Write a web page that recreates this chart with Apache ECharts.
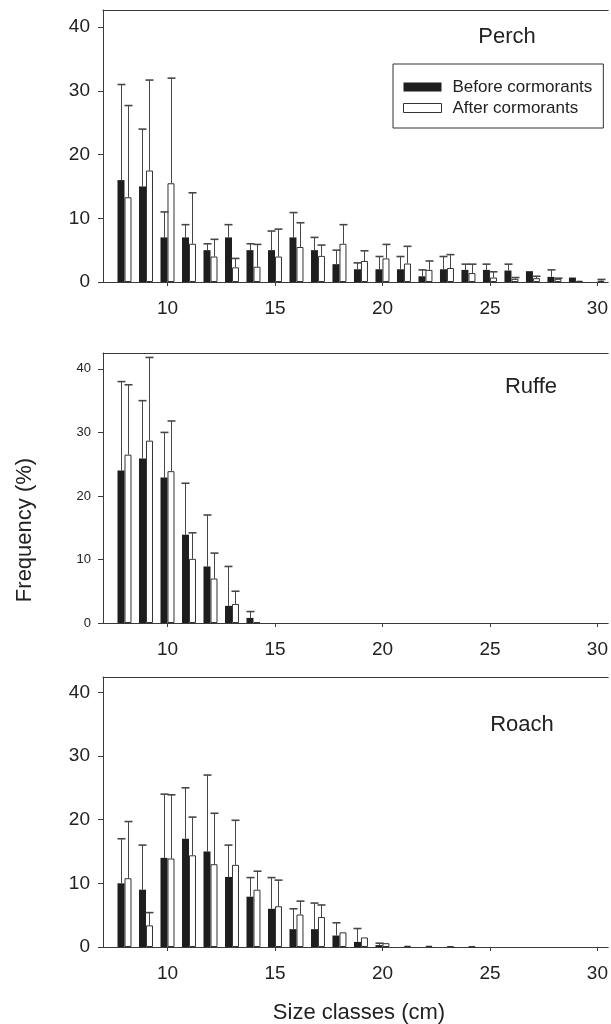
<!DOCTYPE html>
<html>
<head>
<meta charset="utf-8">
<script src="https://cdn.jsdelivr.net/npm/echarts@6/dist/echarts.min.js"></script>
<style>
html, body { margin: 0; padding: 0; background: #fff; }
#chart { width: 611px; height: 1024px; }
</style>
</head>
<body>
<div id="chart"></div>
<script>
// size classes (cm)
const sizeClasses = [8, 9, 10, 11, 12, 13, 14, 15, 16, 17, 18, 19, 20, 21, 22, 23, 24, 25, 26, 27, 28, 29, 30]
const xTicks = [10, 15, 20, 25, 30]
const yTicks = [0, 10, 20, 30, 40]

// Perch
const perchBefore = [16, 15, 7, 7, 5, 7, 5, 5, 7, 5, 2.8, 2, 2, 2, 0.9, 2, 1.9, 1.9, 1.8, 1.7, 0.8, 0.7, 0]
const perchBeforeUpper = [31, 24, 11, 9, 6, 9, 6, 8, 10.9, 7, 5, 3, 4, 4, 1.9, 4, 2.8, 2.8, 2.8, null, 1.9, null, null]
const perchAfter = [13.3, 17.5, 15.5, 6, 4, 2.3, 2.4, 4, 5.5, 4.1, 6, 3.3, 3.7, 2.9, 1.9, 2.2, 1.4, 0.7, 0.5, 0.6, 0.5, 0.2, 0.2]
const perchAfterUpper = [27.7, 31.7, 32, 14, 6.7, 3.7, 5.9, 8.3, 9.3, 5.8, 9, 4.9, 5.9, 5.6, 3.3, 4.3, 2.8, 1.6, 0.7, 0.9, 0.6, null, 0.4]

// Ruffe
const ruffeBefore = [24, 25.9, 22.9, 13.9, 8.9, 2.7, 0.8, 0, 0, 0, 0, 0, 0, 0, 0, 0, 0, 0, 0, 0, 0, 0, 0]
const ruffeBeforeUpper = [38, 35, 30, 22, 17, 8.9, 1.8, null, null, null, null, null, null, null, null, null, null, null, null, null, null, null, null]
const ruffeAfter = [26.5, 28.7, 23.9, 10.1, 7, 3, 0.15, 0, 0, 0, 0, 0, 0, 0, 0, 0, 0, 0, 0, 0, 0, 0, 0]
const ruffeAfterUpper = [37.5, 41.8, 31.8, 14.2, 11, 5, null, null, null, null, null, null, null, null, null, null, null, null, null, null, null, null, null]

// Roach
const roachBefore = [10, 9, 14, 17, 15, 11, 7.9, 6, 2.8, 2.8, 1.8, 0.8, 0.3, 0, 0, 0, 0, 0, 0, 0, 0, 0, 0]
const roachBeforeUpper = [17, 16, 24, 25, 27, 16, 10.9, 10.9, 6, 6.9, 3.8, 2.9, 0.6, null, null, null, null, null, null, null, null, null, null]
const roachAfter = [10.8, 3.4, 13.9, 14.4, 13, 12.9, 9, 6.4, 5.1, 4.7, 2.3, 1.5, 0.6, 0.2, 0.2, 0.1, 0.1, 0, 0, 0, 0, 0, 0]
const roachAfterUpper = [19.7, 5.4, 23.9, 20.4, 21, 19.9, 11.9, 10.5, 7.2, 6.6, null, null, null, null, null, null, null, null, null, null, null, null, null]

const font = '"Liberation Sans", Arial, Helvetica, sans-serif'
const ink = '#222'
const axisColor = '#3a3a3a'
const errColor = '#474747'
const barW = 7

const panels = [
  { name: 'Perch', before: perchBefore, beforeUp: perchBeforeUpper, after: perchAfter, afterUp: perchAfterUpper,
    top: 10, height: 272, yMax: 42.7, yFont: 19, yMargin: 13, title: [507, 37] },
  { name: 'Ruffe', before: ruffeBefore, beforeUp: ruffeBeforeUpper, after: ruffeAfter, afterUp: ruffeAfterUpper,
    top: 353, height: 270, yMax: 42.5, yFont: 13, yMargin: 12, title: [531, 387] },
  { name: 'Roach', before: roachBefore, beforeUp: roachBeforeUpper, after: roachAfter, afterUp: roachAfterUpper,
    top: 677, height: 270, yMax: 42.4, yFont: 19, yMargin: 13, title: [522, 725] }
]

// whisker drawn from bar top to mean+sd, shifted onto its own bar
function errRender(offset) {
  return function (params, api) {
    let up = api.value(2)
    if (up == null || isNaN(up)) return
    let base = api.coord([api.value(0), api.value(1)])
    let top = api.coord([api.value(0), up])
    let x = Math.round(base[0] + offset) + 0.5
    return {
      type: 'group',
      children: [
        { type: 'line', shape: { x1: x, y1: base[1], x2: x, y2: top[1] }, style: { stroke: errColor, lineWidth: 1 } },
        { type: 'line', shape: { x1: x - 4, y1: top[1], x2: x + 4, y2: top[1] }, style: { stroke: errColor, lineWidth: 1.6 } }
      ]
    }
  }
}

// empty classes get no outline, so nothing shows on the axis
function barData(vals) {
  return sizeClasses.map((c, k) => vals[k] === 0
    ? { value: [c, 0], itemStyle: { borderWidth: 0, color: 'transparent' } }
    : [c, vals[k]])
}

let grid = [], xAxis = [], yAxis = [], series = [], graphic = []

panels.forEach((p, i) => {
  grid.push({ left: 103, width: 508, top: p.top, height: p.height })
  xAxis.push({
    gridIndex: i, type: 'value', min: 7, max: 30.5,
    axisLine: { lineStyle: { color: axisColor, width: 1 } },
    axisTick: { length: 4, customValues: xTicks, lineStyle: { color: axisColor } },
    axisLabel: { customValues: xTicks, fontSize: 19, color: ink, fontFamily: font, margin: 17 },
    splitLine: { show: false }
  })
  // top border of the frame
  xAxis.push({
    gridIndex: i, type: 'value', min: 7, max: 30.5, position: 'top',
    axisLine: { lineStyle: { color: axisColor, width: 1 } },
    axisTick: { show: false }, axisLabel: { show: false }, splitLine: { show: false }
  })
  yAxis.push({
    gridIndex: i, type: 'value', min: 0, max: p.yMax,
    axisLine: { show: true, lineStyle: { color: axisColor, width: 1 } },
    axisTick: { show: true, length: 5, customValues: yTicks, lineStyle: { color: axisColor } },
    axisLabel: { customValues: yTicks, fontSize: p.yFont, color: ink, fontFamily: font, margin: p.yMargin },
    splitLine: { show: false }
  })
  let xi = i * 2
  series.push({
    name: 'Before cormorants', type: 'bar', xAxisIndex: xi, yAxisIndex: i,
    barWidth: barW, barGap: '0%',
    itemStyle: { color: '#1e1e1e' },
    data: barData(p.before)
  })
  series.push({
    name: 'After cormorants', type: 'bar', xAxisIndex: xi, yAxisIndex: i,
    barWidth: barW, barGap: '0%',
    itemStyle: { color: '#fff', borderColor: '#333', borderWidth: 1 },
    data: barData(p.after)
  })
  series.push({
    type: 'custom', xAxisIndex: xi, yAxisIndex: i, renderItem: errRender(-barW / 2), z: 3,
    encode: { x: 0, y: [1, 2] },
    data: sizeClasses.map((c, k) => [c, p.before[k], p.beforeUp[k]])
  })
  series.push({
    type: 'custom', xAxisIndex: xi, yAxisIndex: i, renderItem: errRender(barW / 2), z: 3,
    encode: { x: 0, y: [1, 2] },
    data: sizeClasses.map((c, k) => [c, p.after[k], p.afterUp[k]])
  })
  graphic.push({
    type: 'text', x: p.title[0], y: p.title[1],
    style: { text: p.name, font: '22px ' + font, fill: ink, textAlign: 'center', textVerticalAlign: 'middle' }
  })
})

graphic.push({
  type: 'text', x: 25, y: 530, rotation: Math.PI / 2,
  style: { text: 'Frequency (%)', font: '22px ' + font, fill: ink, textAlign: 'center', textVerticalAlign: 'middle' }
})
graphic.push({
  type: 'text', x: 359, y: 1013,
  style: { text: 'Size classes (cm)', font: '22px ' + font, fill: ink, textAlign: 'center', textVerticalAlign: 'middle' }
})

const chart = echarts.init(document.getElementById('chart'), null, { renderer: 'canvas' })
chart.setOption({
  animation: false,
  backgroundColor: '#fff',
  grid: grid,
  xAxis: xAxis,
  yAxis: yAxis,
  legend: {
    orient: 'vertical', left: 393, top: 64,
    padding: [13, 11, 10, 10], itemGap: 1, itemWidth: 38, itemHeight: 9,
    borderColor: '#333', borderWidth: 1, borderRadius: 0,
    textStyle: { fontSize: 17, color: ink, fontFamily: font, lineHeight: 20, padding: [0, 0, 0, 6] },
    data: [
      { name: 'Before cormorants', icon: 'rect', itemStyle: { color: '#1e1e1e' } },
      { name: 'After cormorants', icon: 'rect', itemStyle: { color: '#fff', borderColor: '#333', borderWidth: 1 } }
    ]
  },
  graphic: graphic,
  series: series
})
</script>
</body>
</html>
